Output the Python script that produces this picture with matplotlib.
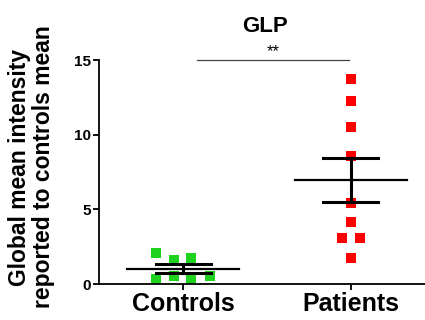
import matplotlib
matplotlib.use("Agg")
import matplotlib.pyplot as plt
import numpy as np

plt.rcParams['font.family'] = ['Liberation Sans', 'DejaVu Sans']

categories = ["Controls", "Patients"]
controls = [2.08, 1.63, 1.74, 0.33, 0.51, 0.33, 0.51]
patients = [13.73, 12.23, 10.49, 8.55, 5.42, 4.17, 3.06, 3.06, 1.74]
control_offsets = [-0.163, -0.058, 0.048, -0.163, -0.058, 0.048, 0.157]
patient_offsets = [0, 0, 0, 0, 0, 0, -0.054, 0.054, 0]
title = "GLP"
ylabel = "Global mean intensity\nreported to controls mean"
yticks = [0, 5, 10, 15]
sig_text = "**"

fig = plt.figure(figsize=(4.25, 3.2), dpi=100)
ax = fig.add_axes([0.233, 0.1125, 0.767, 0.70])

groups = [controls, patients]
offsets = [control_offsets, patient_offsets]
colors = ['#1ed21e', '#ff0000']
for i, (vals, offs, c) in enumerate(zip(groups, offsets, colors)):
    xs = np.array(offs) + i
    ax.plot(xs, vals, 's', color=c, markersize=7, markeredgewidth=0, zorder=2, clip_on=False)
    m = np.mean(vals)
    sem = np.std(vals, ddof=1) / np.sqrt(len(vals))
    ax.plot([i - 0.335, i + 0.335], [m, m], color='black', lw=1.6, zorder=3)
    ax.plot([i, i], [m - sem, m + sem], color='black', lw=2.2, zorder=3)
    for y in (m - sem, m + sem):
        ax.plot([i - 0.165, i + 0.165], [y, y], color='black', lw=2.2, zorder=3)

ax.set_xlim(-0.503, 1.443)
ax.set_ylim(0, 15)
ax.set_xticks([0, 1])
ax.set_xticklabels(categories, fontsize=18, fontweight='bold')
ax.set_yticks(yticks)
ax.set_yticklabels([str(t) for t in yticks], fontsize=11, fontweight='bold')
ax.spines['top'].set_visible(False)
ax.spines['right'].set_visible(False)
for s in ('left', 'bottom'):
    ax.spines[s].set_linewidth(1.3)
ax.tick_params(axis='both', width=1.3, length=4)
ax.tick_params(axis='x', pad=2)
ax.tick_params(axis='y', pad=2)

# significance bar
ax.plot([0.084, 0.988], [15, 15], color='#444444', lw=0.9, clip_on=False)
ax.text(0.536, 15.05, sig_text, ha='center', va='bottom', fontsize=12)

fig.text(0.624, 0.918, title, ha='center', va='center', fontsize=16, fontweight='bold')
fig.text(0.075, 0.478, ylabel, rotation=90, ha='center', va='center', fontsize=16.5,
         fontweight='bold', linespacing=1.05)

fig.savefig("out.png", dpi=100)
